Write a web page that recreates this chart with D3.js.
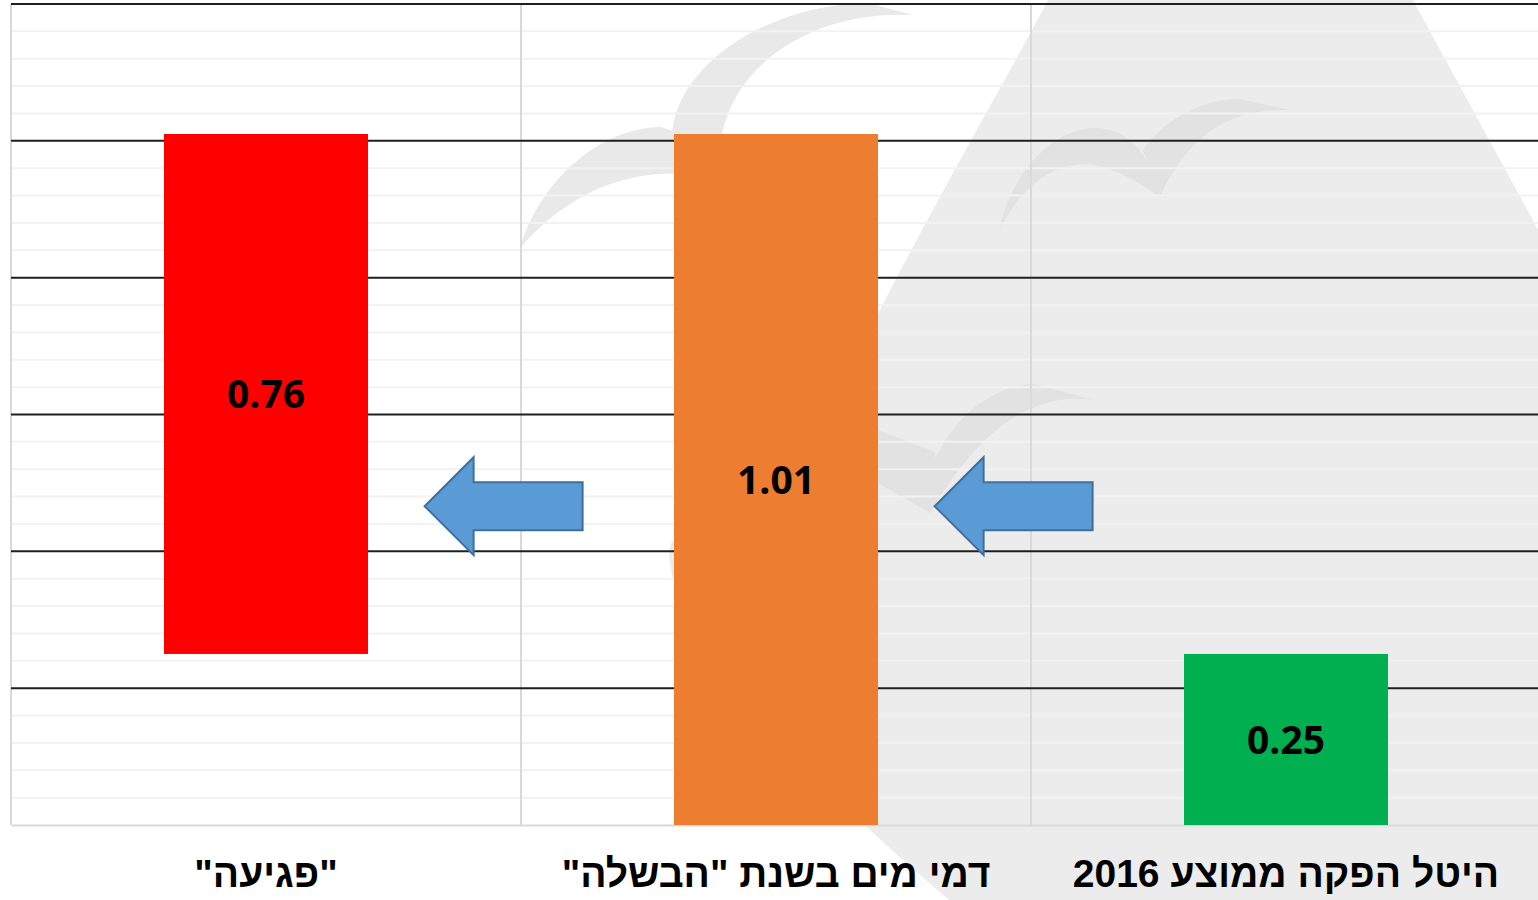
<!DOCTYPE html>
<html lang="he">
<head>
<meta charset="utf-8">
<script src="https://cdn.jsdelivr.net/npm/d3@7"></script>
<style>
	body { margin: 0; background: #fff; }
	svg { display: block; }
</style>
</head>
<body>
<div id="chart"></div>
<script>
// Chart data (categories ordered right-to-left, as in the original)
const categories = ["היטל הפקה ממוצע 2016", "דמי מים בשנת \"הבשלה\"", "\"פגיעה\""]
const barStarts = [0, 0, 0.25]
const barValues = [0.25, 1.01, 0.76]
const valueLabels = ["0.25", "1.01", "0.76"]
const barColors = ["#00b050", "#ed7d31", "#ff0000"]
const yMax = 1.2
const majorTicks = [0.2, 0.4, 0.6, 0.8, 1.0, 1.2]
const minorStep = 0.04
const arrowLevel = 0.466

const width = 1538
const height = 900
const margin = { top: 4, right: -3, bottom: 75, left: 11 }

const svg = d3
	.select("#chart")
	.append("svg")
	.attr("width", width)
	.attr("height", height)

// Watermark behind the chart (faint drop with birds)
const watermark = svg.append("g").attr("class", "watermark")
watermark
	.append("path")
	.attr("d", "M1048,0 C990,110 900,260 830,413 C770,500 690,515 670,545 C660,610 770,750 955,905 L1560,905 L1560,270 L1413,0 Z")
	.attr("fill", "#ececec")
const birds = [
	{ d: "M520,248 C540,180 600,128 660,127 L705,140 L705,176 C640,166 575,185 520,248 Z", fill: "#e9e9e9" },
	{ d: "M672,134 C676,70 760,5 868,3 L913,15 C820,10 738,58 722,134 Z", fill: "#e9e9e9" },
	{ d: "M1000,228 C1012,170 1055,128 1095,128 C1125,128 1150,150 1160,197 C1120,170 1095,160 1070,166 C1040,172 1018,195 1000,228 Z", fill: "#e2e2e2" },
	{ d: "M1143,150 C1165,118 1205,98 1240,99 L1290,110 C1235,108 1190,130 1160,197 Z", fill: "#e2e2e2" },
	{ d: "M878,430 L935,452 L930,513 L878,483 Z", fill: "#e2e2e2" },
	{ d: "M930,470 C950,420 990,385 1035,384 L1093,400 C1040,392 985,420 930,513 Z", fill: "#e2e2e2" },
]
watermark
	.selectAll(".bird")
	.data(birds)
	.enter()
	.append("path")
	.attr("class", "bird")
	.attr("d", (d) => d.d)
	.attr("fill", (d) => d.fill)

// Scales (right-to-left category order)
const xScale = d3
	.scaleBand()
	.domain(categories)
	.range([width - margin.right, margin.left])
	.padding(0)

const yScale = d3
	.scaleLinear()
	.domain([0, yMax])
	.range([height - margin.bottom, margin.top])

const x0 = margin.left
const x1 = width - margin.right

// Minor gridlines
const minorTicks = d3
	.range(1, Math.round(yMax / minorStep))
	.map((i) => +(i * minorStep).toFixed(2))
	.filter((v) => !majorTicks.some((m) => Math.abs(m - v) < 1e-6))

svg.append("g")
	.selectAll("line")
	.data(minorTicks)
	.enter()
	.append("line")
	.attr("x1", x0)
	.attr("x2", x1)
	.attr("y1", (d) => yScale(d))
	.attr("y2", (d) => yScale(d))
	.attr("stroke", "#f2f2f2")
	.attr("stroke-width", 2)

// Category separators
svg.append("g")
	.selectAll("line")
	.data(categories)
	.enter()
	.append("line")
	.attr("x1", (d) => xScale(d))
	.attr("x2", (d) => xScale(d))
	.attr("y1", yScale(yMax))
	.attr("y2", yScale(0))
	.attr("stroke", "#d9d9d9")
	.attr("stroke-width", 2)

// Major gridlines
svg.append("g")
	.selectAll("line")
	.data(majorTicks)
	.enter()
	.append("line")
	.attr("x1", x0)
	.attr("x2", x1)
	.attr("y1", (d) => yScale(d))
	.attr("y2", (d) => yScale(d))
	.attr("stroke", "#1f1f1f")
	.attr("stroke-width", 2)

// Baseline (x axis)
const xAxis = svg
	.append("g")
	.attr("transform", `translate(0,${yScale(0)})`)
	.call(d3.axisBottom(xScale).tickSize(0).tickFormat(""))
xAxis.select(".domain").attr("stroke", "#d9d9d9").attr("stroke-width", 2)

// Bars
const barWidth = xScale.bandwidth() * 0.4
const barData = categories.map((c, i) => ({
	category: c,
	start: barStarts[i],
	end: barStarts[i] + barValues[i],
	label: valueLabels[i],
	color: barColors[i],
}))

svg.append("g")
	.selectAll("rect")
	.data(barData)
	.enter()
	.append("rect")
	.attr("x", (d) => xScale(d.category) + (xScale.bandwidth() - barWidth) / 2)
	.attr("y", (d) => yScale(d.end))
	.attr("width", barWidth)
	.attr("height", (d) => yScale(d.start) - yScale(d.end))
	.attr("fill", (d) => d.color)

// Value labels in the middle of the bars
svg.append("g")
	.selectAll("text")
	.data(barData)
	.enter()
	.append("text")
	.attr("x", (d) => xScale(d.category) + xScale.bandwidth() / 2)
	.attr("y", (d) => yScale((d.start + d.end) / 2))
	.attr("dy", "0.36em")
	.attr("text-anchor", "middle")
	.style("font-family", "'Open Sans', 'Liberation Sans', sans-serif")
	.style("font-weight", "bold")
	.style("font-size", "39px")
	.attr("fill", "#000")
	.text((d) => d.label)

// Category labels
svg.append("g")
	.selectAll("text")
	.data(categories)
	.enter()
	.append("text")
	.attr("x", (d) => xScale(d) + xScale.bandwidth() / 2)
	.attr("y", 887)
	.attr("text-anchor", "middle")
	.attr("direction", "rtl")
	.style("font-family", "'Liberation Sans', Arial, sans-serif")
	.style("font-weight", "bold")
	.style("font-size", "39px")
	.attr("fill", "#000")
	.text((d) => d)

// Arrows pointing from each bar to the next one (leftwards)
const arrowLen = 158
const headLen = 49
const headHalf = 49
const shaftHalf = 24
const arrows = d3.range(categories.length - 1).map((i) => {
	const rightBarLeft = xScale(categories[i]) + (xScale.bandwidth() - barWidth) / 2
	const leftBarRight = xScale(categories[i + 1]) + (xScale.bandwidth() + barWidth) / 2
	const tip = leftBarRight + (rightBarLeft - leftBarRight) * 0.185
	return { tip, y: yScale(arrowLevel) }
})

svg.append("g")
	.selectAll("path")
	.data(arrows)
	.enter()
	.append("path")
	.attr("d", (d) => {
		const p = d3.path()
		p.moveTo(d.tip, d.y)
		p.lineTo(d.tip + headLen, d.y - headHalf)
		p.lineTo(d.tip + headLen, d.y - shaftHalf)
		p.lineTo(d.tip + arrowLen, d.y - shaftHalf)
		p.lineTo(d.tip + arrowLen, d.y + shaftHalf)
		p.lineTo(d.tip + headLen, d.y + shaftHalf)
		p.lineTo(d.tip + headLen, d.y + headHalf)
		p.closePath()
		return p.toString()
	})
	.attr("fill", "#5b9bd5")
	.attr("stroke", "#3f6f9a")
	.attr("stroke-width", 2)
</script>
</body>
</html>
